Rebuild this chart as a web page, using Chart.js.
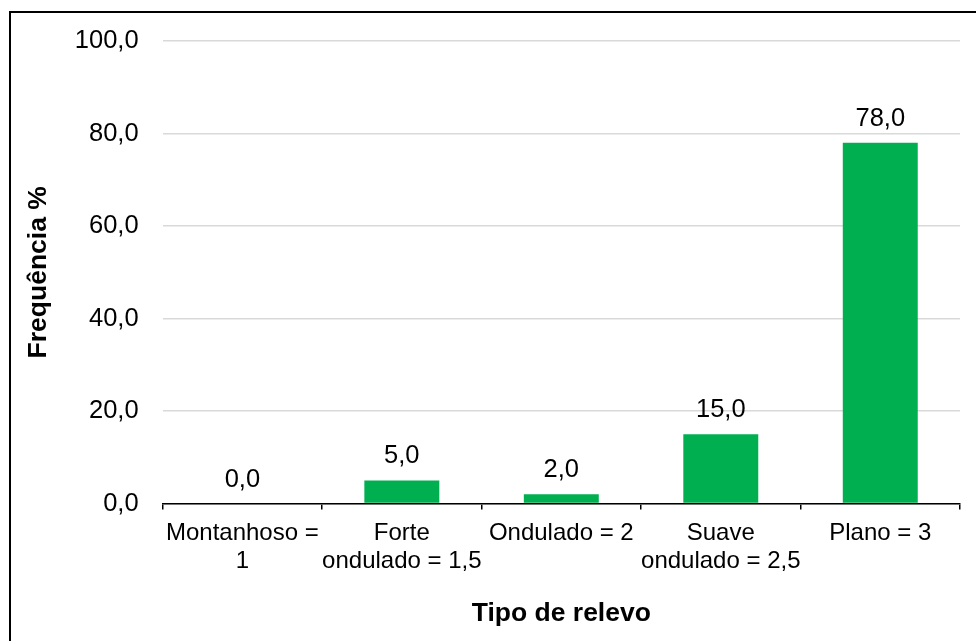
<!DOCTYPE html>
<html lang="pt-br">
<head>
  <meta charset="UTF-8">
  <title>Frequência por tipo de relevo</title>
  <style>
    html, body { margin: 0; padding: 0; background: #fff; overflow: hidden; }
    #quadro { position: absolute; left: 9px; top: 11px; width: 1000px; height: 700px; border: 2px solid #000; pointer-events: none; }
    #wrap { position: absolute; left: 0; top: 0; width: 976px; height: 641px; }
  </style>
</head>
<body>
  <div id="wrap"><canvas id="grafico"></canvas></div>
  <div id="quadro"></div>
  <script src="https://cdn.jsdelivr.net/npm/chart.js"></script>
  <script>
    // dados
    const categorias = [['Montanhoso =', '1'], ['Forte', 'ondulado = 1,5'], ['Ondulado = 2'], ['Suave', 'ondulado = 2,5'], ['Plano = 3']];
    const frequencia = [0, 5, 2, 15, 78];
    const eixoY = { min: 0, max: 100, passo: 20 };

    const fmt = v => Number(v).toFixed(1).replace('.', ',');
    const fonte = 'Arial, "Liberation Sans", sans-serif';

    // rótulos de dados acima das barras
    const rotulos = {
      id: 'rotulos',
      afterDatasetsDraw(chart) {
        const ctx = chart.ctx;
        const meta = chart.getDatasetMeta(0);
        ctx.save();
        ctx.font = '25.5px ' + fonte;
        ctx.fillStyle = '#000';
        ctx.textAlign = 'center';
        ctx.textBaseline = 'alphabetic';
        meta.data.forEach((bar, i) => {
          ctx.fillText(fmt(frequencia[i]), bar.x, bar.y - 17);
        });
        ctx.restore();
      }
    };

    new Chart(document.getElementById('grafico'), {
      type: 'bar',
      data: {
        labels: categorias,
        datasets: [{ data: frequencia, backgroundColor: '#00B050', borderWidth: 0, barPercentage: 0.47, categoryPercentage: 1 }]
      },
      options: {
        responsive: true,
        maintainAspectRatio: false,
        animation: false,
        layout: { padding: { left: 23, right: 16, top: 41, bottom: 11 } },
        plugins: { legend: { display: false }, tooltip: { enabled: false } },
        scales: {
          x: {
            grid: { display: true, offset: true, drawOnChartArea: false, color: '#000', lineWidth: 1.5, tickLength: 6 },
            border: { display: true, color: '#000', width: 1.5 },
            ticks: { color: '#000', font: { family: fonte, size: 24 }, padding: 9, maxRotation: 0, autoSkip: false },
            title: { display: true, text: 'Tipo de relevo', color: '#000', font: { family: fonte, size: 26.5, weight: 'bold' }, padding: { top: 13, bottom: 0 } }
          },
          y: {
            min: eixoY.min, max: eixoY.max,
            grid: { color: '#d9d9d9', lineWidth: 1.5, drawTicks: false },
            border: { display: false },
            ticks: { stepSize: eixoY.passo, color: '#000', font: { family: fonte, size: 25.5 }, padding: 24, callback: v => fmt(v) },
            title: { display: true, text: 'Frequência %', color: '#000', font: { family: fonte, size: 26.5, weight: 'bold' }, padding: { top: 0, bottom: -4 } }
          }
        }
      },
      plugins: [rotulos]
    });
  </script>
</body>
</html>
